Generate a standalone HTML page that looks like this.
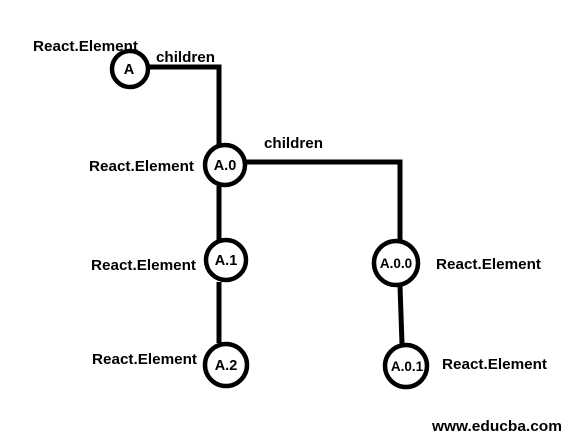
<!DOCTYPE html>
<html><head><style>body{margin:0;background:#fff}svg{display:block}text{font-family:"Liberation Sans",sans-serif;font-weight:bold;font-size:14.5px;fill:#000}</style></head>
<body>
<svg width="571" height="443" viewBox="0 0 571 443">
<g stroke="#000" stroke-width="5" fill="none">
<polyline points="148,67 219,67 219,146"/>
<polyline points="241,162 400,162 400,240"/>
<line x1="219" y1="186" x2="219" y2="240"/>
<line x1="219" y1="282" x2="219" y2="343"/>
<line x1="400" y1="286" x2="402" y2="344"/>
</g>
<g stroke="#000" stroke-width="4.5" fill="#fff">
<circle cx="130" cy="69" r="18"/>
<circle cx="225" cy="165" r="20"/>
<circle cx="226" cy="260" r="20"/>
<circle cx="226" cy="365" r="21"/>
<circle cx="396" cy="263" r="22"/>
<circle cx="406" cy="366" r="21"/>
</g>
<g text-anchor="middle" style="font-size:14px">
<text x="129" y="74">A</text>
<text x="225" y="170">A.0</text>
<text x="226" y="265">A.1</text>
<text x="226" y="370">A.2</text>
<text x="396" y="268" style="font-size:13.5px">A.0.0</text>
<text x="407" y="371" style="font-size:13.5px">A.0.1</text>
</g>
<g>
<text x="33" y="51" textLength="105" lengthAdjust="spacingAndGlyphs">React.Element</text>
<text x="156" y="62" textLength="59" lengthAdjust="spacingAndGlyphs">children</text>
<text x="89" y="171" textLength="105" lengthAdjust="spacingAndGlyphs">React.Element</text>
<text x="264" y="148" textLength="59" lengthAdjust="spacingAndGlyphs">children</text>
<text x="91" y="270" textLength="105" lengthAdjust="spacingAndGlyphs">React.Element</text>
<text x="92" y="364" textLength="105" lengthAdjust="spacingAndGlyphs">React.Element</text>
<text x="436" y="269" textLength="105" lengthAdjust="spacingAndGlyphs">React.Element</text>
<text x="442" y="369" textLength="105" lengthAdjust="spacingAndGlyphs">React.Element</text>
<text x="432" y="431" textLength="130" lengthAdjust="spacingAndGlyphs">www.educba.com</text>
</g>
</svg>
</body></html>
